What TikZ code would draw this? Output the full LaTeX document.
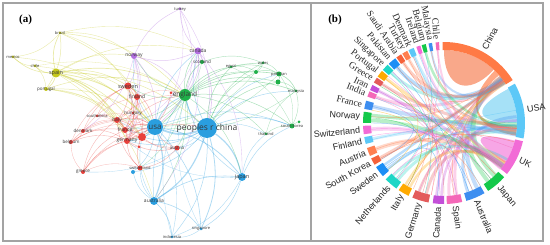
\documentclass[tikz,border=0pt]{standalone}
\usepackage{fontspec}
\newfontfamily\netfont{Open Sans}
\newfontfamily\chordsans{Liberation Sans}
\newfontfamily\chordserif{Liberation Serif}
\newcommand{\chlsans}{\chordsans\fontsize{9}{9}\selectfont}
\newcommand{\chlserif}{\chordserif\fontsize{9.5}{9.5}\selectfont}

\definecolor{framegray}{HTML}{A3A3A3}
\definecolor{netred}{HTML}{E8413C}
\definecolor{netblue}{HTML}{2A9EDF}
\definecolor{netgreen}{HTML}{20B04A}
\definecolor{netyellow}{HTML}{C5C81E}
\definecolor{netpurple}{HTML}{B36FE0}
\definecolor{chorange}{HTML}{FF7A45}
\definecolor{chlobe}{HTML}{F9A88A}
\definecolor{chlblue}{HTML}{5CC8F7}
\definecolor{chusalobe}{HTML}{A6E1F7}
\definecolor{chpink}{HTML}{F26BD6}
\definecolor{chuklobe}{HTML}{F7A6E6}
\definecolor{chgreen}{HTML}{14C94A}
\definecolor{chblue}{HTML}{3D8EF0}
\definecolor{chrose}{HTML}{F468B8}
\definecolor{chpurple}{HTML}{C34FD8}
\definecolor{chred}{HTML}{E35B5B}
\definecolor{chyellow}{HTML}{FFAA00}
\definecolor{chteal}{HTML}{1ED6C6}
\definecolor{chdblue}{HTML}{1C8EF5}
\definecolor{chtomato}{HTML}{F5613A}
\definecolor{chcoral}{HTML}{FF7F50}

\pgfdeclarelayer{background}
\pgfsetlayers{background,main}

\tikzset{
  vnode/.style={circle, fill=#1, inner sep=0pt},
  vtext/.style={font=\netfont\fontsize{#1}{#1}\selectfont, text=black!78, inner sep=0pt},
  elink/.style={draw=#1, opacity=.38},
  clabel/.style={text=black!85, inner sep=.5pt},
  paneltag/.style={font=\chordserif\bfseries\fontsize{11}{11}\selectfont},
}

% ribbon between two arcs of the chord circle
\newcommand{\chordband}[5]{%
  \fill[#5] (#1:73) arc[start angle=#1, end angle=#2, radius=73]
    .. controls (#2:28) and (#3:28) .. (#3:73)
    arc[start angle=#3, end angle=#4, radius=73]
    .. controls (#4:28) and (#1:28) .. (#1:73) -- cycle;}
% ribbon that comes back to its own sector
\newcommand{\chordloop}[4]{%
  \fill[#4] (#1:73) arc[start angle=#1, end angle=#2, radius=73]
    .. controls (#2:#3) and (#1:#3) .. (#1:73) -- cycle;}

\begin{document}
\begin{tikzpicture}[x=1pt, y=-1pt, >=latex]
    \useasboundingbox (0,0) rectangle (550,245);

    % 1. Frames and panel tags
    \draw[framegray, line width=1.2pt] (3,3) rectangle (543,241);
    \draw[framegray, line width=1.2pt] (311,3) -- (311,241);
    \node[paneltag] (tag-a) at (25.5,19.5) {(a)};
    \node[paneltag] (tag-b) at (335,19.5) {(b)};

    % 2. Network (a): blue cluster
    \node[vnode=netblue, minimum size=20pt, label={[vtext=8.5]center:peoples r china}] (china) at (207,128) {};
    \node[vnode=netblue, minimum size=16pt, label={[vtext=8]center:usa}] (usa) at (155,127) {};
    \node[vnode=netblue, minimum size=8pt, label={[vtext=5.5]center:japan}] (japan) at (242,177) {};
    \node[vnode=netblue, minimum size=8pt, label={[vtext=5]center:australia}] (australia) at (154,201) {};
    \node[vnode=netblue, minimum size=3pt, label={[vtext=4]center:singapore}] (singapore) at (201,229) {};
    \node[vnode=netblue, minimum size=3pt, label={[vtext=4]center:indonesia}] (indonesia) at (172,237) {};
    \node[vnode=netblue, minimum size=4pt] (blueA) at (133,172) {};

    % green cluster
    \node[vnode=netgreen, minimum size=12pt, label={[vtext=6.5]center:england}] (england) at (185,95) {};
    \node[vnode=netgreen, minimum size=4pt, label={[vtext=4.5]center:scotland}] (scotland) at (202,62) {};
    \node[vnode=netgreen, minimum size=3pt, label={[vtext=4]center:egypt}] (egypt) at (231,67) {};
    \node[vnode=netgreen, minimum size=3pt, label={[vtext=4]center:wales}] (wales) at (263,63) {};
    \node[vnode=netgreen, minimum size=4pt] (greenA) at (256,72) {};
    \node[vnode=netgreen, minimum size=5pt, label={[vtext=4]center:pakistan}] (pakistan) at (279,74) {};
    \node[vnode=netgreen, minimum size=5pt] (greenB) at (278,82) {};
    \node[vnode=netgreen, minimum size=3pt, label={[vtext=4]center:malaysia}] (malaysia) at (296,91) {};
    \node[vnode=netgreen, minimum size=3pt, label={[vtext=4]center:thailand}] (thailand) at (266,134) {};
    \node[vnode=netgreen, minimum size=5pt, label={[vtext=4]center:south korea}] (southkorea) at (292,126) {};
    \node[vnode=netgreen, minimum size=3pt] (greenC) at (299,122) {};

    % red cluster
    \node[vnode=netred, minimum size=7pt, label={[vtext=5.5]center:sweden}] (sweden) at (128,86) {};
    \node[vnode=netred, minimum size=6pt, label={[vtext=5]center:finland}] (finland) at (137,97) {};
    \node[vnode=netred, minimum size=3pt, label={[vtext=4.5]center:hungary}] (hungary) at (133,113) {};
    \node[vnode=netred, minimum size=3pt, label={[vtext=4]center:southafrica}] (southafrica) at (97,116) {};
    \node[vnode=netred, minimum size=6pt, label={[vtext=5]center:italy}] (italy) at (117,120) {};
    \node[vnode=netred, minimum size=6pt, label={[vtext=5]center:france}] (france) at (125,130) {};
    \node[vnode=netred, minimum size=8pt] (redB) at (142,137) {};
    \node[vnode=netred, minimum size=6pt, label={[vtext=5]center:germany}] (germany) at (127,141) {};
    \node[vnode=netred, minimum size=3pt] (redC) at (139,147) {};
    \node[vnode=netred, minimum size=3pt] (redA) at (171,93) {};
    \node[vnode=netred, minimum size=4pt, label={[vtext=4.5]center:denmark}] (denmark) at (83,131) {};
    \node[vnode=netred, minimum size=4pt, label={[vtext=4.5]center:belgium}] (belgium) at (71,142) {};
    \node[vnode=netred, minimum size=4pt, label={[vtext=4.5]center:greece}] (greece) at (83,172) {};
    \node[vnode=netred, minimum size=5pt, label={[vtext=4.5]center:austria}] (austria) at (177,148) {};
    \node[vnode=netred, minimum size=5pt, label={[vtext=4]center:switzerland}] (switzerland) at (140,168) {};

    % yellow cluster
    \node[vnode=netyellow, minimum size=9pt, label={[vtext=5.5]center:spain}] (spain) at (56,73) {};
    \node[vnode=netyellow, minimum size=3pt, label={[vtext=4]center:brazil}] (brazil) at (60,33) {};
    \node[vnode=netyellow, minimum size=3pt, label={[vtext=4]center:mexico}] (mexico) at (13,57) {};
    \node[vnode=netyellow, minimum size=3pt, label={[vtext=4]center:chile}] (chile) at (35,66) {};
    \node[vnode=netyellow, minimum size=4pt, label={[vtext=4.5]center:portugal}] (portugal) at (46,89) {};

    % purple cluster
    \node[vnode=netpurple, minimum size=6pt, label={[vtext=5]center:norway}] (norway) at (134,56) {};
    \node[vnode=netpurple, minimum size=3pt, label={[vtext=4]center:turkey}] (turkey) at (180,9) {};
    \node[vnode=netpurple, minimum size=7pt, label={[vtext=5]center:canada}] (canada) at (198,51) {};

    % 3. Links of the network, under the nodes
    \begin{pgfonlayer}{background}
    \foreach \a/\b/\w in {china/usa/1.8, china/japan/1.2, china/australia/1.2, usa/australia/1.2,
        usa/japan/.8, china/singapore/.8, usa/singapore/.6, australia/singapore/.6,
        australia/indonesia/.6, china/indonesia/.5, japan/singapore/.5, australia/japan/.6,
        usa/indonesia/.4, china/england/1, usa/england/.8, china/canada/.6, usa/canada/.5,
        china/southkorea/.6, usa/southkorea/.5, china/blueA/.5, usa/blueA/.5, australia/england/.5,
        japan/england/.5, china/thailand/.4, japan/southkorea/.5, australia/blueA/.4,
        china/malaysia/.5, china/pakistan/.5, usa/germany/.6, usa/france/.5, china/germany/.5,
        usa/norway/.4, japan/indonesia/.4, singapore/indonesia/.4, usa/sweden/.4, china/austria/.4,
        japan/thailand/.4, australia/switzerland/.4, china/redB/.6, usa/redB/.6, usa/italy/.4,
        china/greece/.3, australia/redB/.4, japan/germany/.3, singapore/england/.3, indonesia/england/.3}
        \draw[elink=netblue, line width=\w pt] (\a) to[bend left=20] (\b);

    \foreach \a/\b/\w in {england/scotland/.6, england/wales/.5, england/egypt/.5, england/pakistan/.6,
        england/greenB/.5, england/malaysia/.6, england/southkorea/.5, england/thailand/.4,
        england/greenA/.4, scotland/wales/.4, pakistan/malaysia/.6, pakistan/greenB/.6,
        greenB/malaysia/.4, egypt/pakistan/.4, egypt/greenA/.4, wales/greenA/.4, china/greenB/.5,
        china/egypt/.5, china/wales/.4, china/greenA/.4, england/sweden/.4, england/norway/.4,
        england/france/.4, england/germany/.4, england/italy/.4, england/canada/.5,
        southkorea/greenC/.4, malaysia/southkorea/.4, thailand/southkorea/.4, england/redA/.4,
        england/austria/.4, england/switzerland/.3, scotland/canada/.3, pakistan/southkorea/.3,
        egypt/southkorea/.3, wales/pakistan/.4, greenA/pakistan/.4, thailand/malaysia/.3,
        england/japan/.4, england/australia/.4, scotland/usa/.3, wales/usa/.3, pakistan/usa/.3,
        malaysia/usa/.3}
        \draw[elink=netgreen, line width=\w pt] (\a) to[bend left=20] (\b);

    \foreach \a/\b/\w in {sweden/finland/.6, sweden/germany/.5, sweden/france/.5, sweden/italy/.5,
        finland/hungary/.4, italy/france/.6, italy/germany/.6, france/germany/.7, france/redB/.6,
        germany/redB/.6, italy/redB/.5, denmark/sweden/.4, denmark/germany/.4, belgium/france/.5,
        belgium/italy/.4, belgium/germany/.4, greece/italy/.4, greece/germany/.4, greece/redB/.4,
        southafrica/italy/.4, southafrica/france/.3, hungary/italy/.4, hungary/germany/.4,
        austria/germany/.5, austria/redB/.5, switzerland/germany/.5, switzerland/redB/.5,
        switzerland/italy/.4, austria/switzerland/.4, redC/redB/.4, redB/usa/.8, germany/usa/.8,
        france/usa/.7, italy/usa/.6, sweden/usa/.5, germany/china/.5, italy/england/.4,
        france/england/.4, finland/england/.4, redA/redB/.4, austria/usa/.4, denmark/belgium/.4,
        greece/france/.4, denmark/finland/.3, greece/belgium/.3, southafrica/sweden/.3,
        hungary/redB/.4, finland/france/.4, finland/italy/.4, denmark/italy/.3, belgium/usa/.3,
        greece/usa/.3, denmark/usa/.3, southafrica/usa/.3, sweden/redB/.4, finland/germany/.4,
        greece/switzerland/.3, belgium/sweden/.3, austria/italy/.3, redC/germany/.3}
        \draw[elink=netred, line width=\w pt] (\a) to[bend left=20] (\b);

    \foreach \a/\b/\w in {spain/brazil/.7, spain/mexico/.6, spain/chile/.6, spain/portugal/.7,
        brazil/portugal/.5, brazil/mexico/.4, chile/mexico/.4, chile/portugal/.4, spain/usa/.8,
        spain/england/.7, spain/italy/.6, spain/france/.6, spain/germany/.6, spain/sweden/.5,
        spain/redB/.5, spain/china/.5, brazil/usa/.5, brazil/england/.5, brazil/norway/.4,
        portugal/usa/.5, portugal/england/.5, portugal/redB/.4, chile/usa/.4, mexico/usa/.4,
        spain/canada/.4, spain/norway/.4, brazil/canada/.4, spain/finland/.4, spain/australia/.4,
        portugal/france/.4, portugal/italy/.4, brazil/sweden/.3, chile/england/.3}
        \draw[elink=netyellow, line width=\w pt] (\a) to[bend left=20] (\b);

    \foreach \a/\b/\w in {canada/turkey/.5, norway/turkey/.5, canada/norway/.5, canada/usa/.6,
        canada/england/.6, canada/china/.6, canada/scotland/.4, norway/sweden/.5, norway/finland/.5,
        norway/usa/.5, norway/england/.5, norway/germany/.4, turkey/england/.4, turkey/china/.4,
        canada/australia/.4, norway/denmark/.4, canada/japan/.4, norway/france/.4,
        canada/france/.3, turkey/usa/.3}
        \draw[elink=netpurple, line width=\w pt] (\a) to[bend left=20] (\b);
    \end{pgfonlayer}

    % 4. Chord diagram (b)
    \begin{scope}[shift={(444,123)}, y=1pt]
        % large self ribbons
        \chordloop{90}{47}{35}{chlobe}
        \chordloop{28}{0}{30}{chusalobe}
        \chordloop{-14}{-33}{30}{chuklobe}
        \chordband{46}{41}{-4}{-10}{chorange!65}

        % wide links
        \foreach \a/\b/\w/\c in {-46/38/5/chgreen, -53/-36/4/chgreen, -63/36/4/chblue, -71/5/3/chblue,
            -80/34/3/chrose, -86/-3/3/chrose, -92/2/2.5/chpurple, -96/39/2.5/chpurple,
            -104/-35/3/chred, -110/-5/3/chred, -118/-37/2.5/chyellow, -122/33/2.5/chyellow,
            -129/-8/3/chteal, -134/-30/2.5/chteal, -141/-2/2.5/chdblue, -145/37/2.5/chdblue,
            -151.5/35/3/chtomato, -159/-34/4/chcoral, -167.5/-6/3/chlblue, -175/-36/4/chpink,
            -182/-37/3.5/chgreen, -186/-1/3.5/chgreen, -193/-9/4/chblue, -201/36/3/chrose,
            -206/-38/3/chpurple, -212/-4/3/chred, -217.5/-33/3/chyellow, -223.5/34/3/chteal,
            -230/37/4/chdblue, -236/35/3/chtomato, -241/-7/3/chcoral, -246/-35/3/chlblue,
            -251.5/-36/2.5/chpink, -255.5/-3/2.5/chgreen, -260/33/2/chblue, -265/-39/2/chrose}
            \draw[\c, opacity=.3, line width=\w pt] (\a:73) .. controls (\a:28) and (\b:28) .. (\b:73);

        % thin links
        \foreach \a/\b/\c in {-175/-50/chpink, -201/-20/chrose, -167/10/chlblue, -246/-60/chlblue,
            -251/-100/chpink, -265/-130/chrose, -212/-90/chred, -193/-150/chblue, -236/-45/chtomato,
            -241/-115/chcoral, -230/-70/chdblue, -217/-140/chyellow, -223/-105/chteal,
            -206/-80/chpurple, -184/-120/chgreen, -159/-60/chcoral, -151/-15/chtomato,
            -143/-95/chdblue, -131/-255/chteal, -120/-190/chyellow, -107/-245/chred,
            -94/-225/chpurple, -82/-200/chrose, -67/-180/chblue, -50/-210/chgreen,
            36/-150/chorange, 38/-120/chorange, 34/-82/chorange, 35/-67/chorange, 37/-100/chorange,
            39/-185/chorange, 33/-230/chorange, 40/-260/chorange, -5/-140/chlblue, -8/-200/chlblue,
            -2/-250/chlblue, -35/-170/chpink, -37/-220/chpink, -36/-110/chpink, -38/-135/chpink}
            \draw[\c, opacity=.5, line width=.45pt] (\a:73) .. controls (\a:20) and (\b:20) .. (\b:73);

        % sectors and their names
        \foreach \s/\e/\c/\t/\f [count=\i] in {91/32/chorange/China/\chlsans,
            29/-11/chlblue/USA/\chlsans, -13/-39/chpink/UK/\chlsans, -42/-57/chgreen/Japan/\chlsans,
            -60/-74/chblue/Australia/\chlsans, -77/-88/chrose/Spain/\chlsans,
            -90/-98/chpurple/Canada/\chlsans, -101/-113/chred/Germany/\chlsans,
            -116/-124/chyellow/Italy/\chlsans, -126/-136/chteal/Netherlands/\chlsans,
            -139/-147/chdblue/Sweden/\chlsans, -149/-154/chtomato/South Korea/\chlsans,
            -156/-162/chcoral/Austria/\chlsans, -165/-170/chlblue/Finland/\chlsans,
            -172/-178/chpink/Switzerland/\chlsans, -180/-188/chgreen/Norway/\chlsans,
            -190/-196/chblue/France/\chlserif, -199/-203/chrose/India/\chlserif,
            -204/-208/chpurple/Iran/\chlserif, -210/-214/chred/Greece/\chlserif,
            -215/-220/chyellow/Portugal/\chlserif, -221/-226/chteal/Singapore/\chlserif,
            -227/-233/chdblue/Pakistan/\chlserif, -234/-238/chtomato/Saudi Arabia/\chlserif,
            -239/-243/chcoral/Turkey/\chlserif, -244/-248/chlblue/Denmark/\chlserif,
            -250/-253/chpink/Ireland/\chlserif, -254/-257/chgreen/Belgium/\chlserif,
            -259/-261.5/chblue/Malaysia/\chlserif, -264/-266.5/chrose/Chile/\chlserif}{
            \fill[\c] (\s:73) arc[start angle=\s, end angle=\e, radius=73]
                -- (\e:81) arc[start angle=\e, end angle=\s, radius=81] -- cycle;
            \pgfmathsetmacro\m{(\s+\e)/2}
            \ifdim\m pt<-90pt
                \pgfmathsetmacro\r{\m+180}
                \node[clabel, font=\f, anchor=east, rotate=\r] (sec\i) at (\m:83.5) {\t};
            \else
                \node[clabel, font=\f, anchor=west, rotate=\m] (sec\i) at (\m:83.5) {\t};
            \fi
        }
    \end{scope}
\end{tikzpicture}
\end{document}
